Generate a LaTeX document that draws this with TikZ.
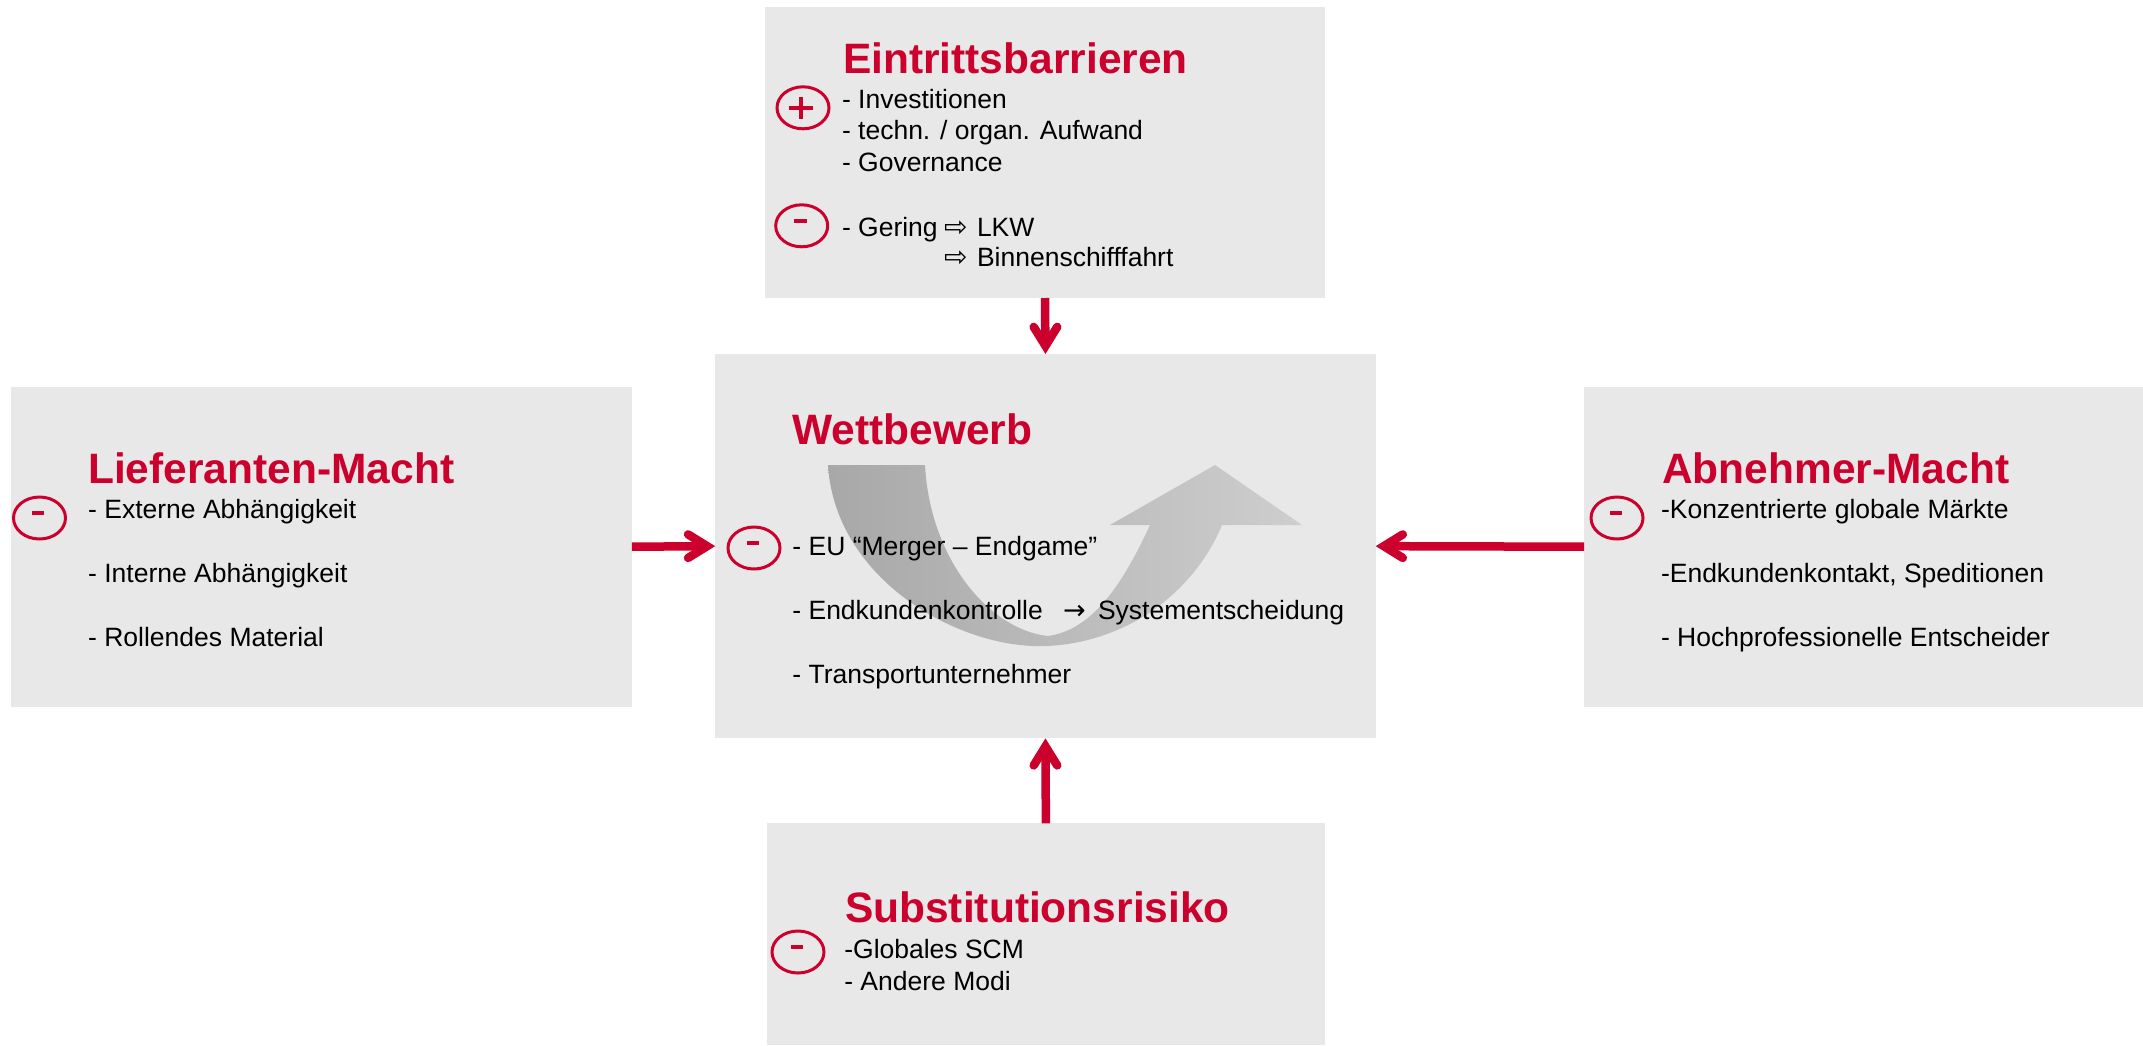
\documentclass[tikz,border=0pt]{standalone}
\usepackage{fontspec}
\setmainfont{Liberation Sans}
\newfontfamily\symfont{DejaVu Sans}
\usetikzlibrary{calc,shapes.geometric}
\definecolor{crim}{RGB}{204,0,44}
\definecolor{boxgray}{RGB}{232,232,232}
\definecolor{arrdark}{RGB}{168,168,168}
\definecolor{arrlight}{RGB}{206,206,206}
\newcommand\minusbar[1]{\fill[crim] ($(#1)+(-7.5,-7.15)$) rectangle ($(#1)+(4.9,-2.85)$);}
\begin{document}
\begin{tikzpicture}[x=1pt,y=-1pt,
  box/.style={fill=boxgray, draw=none, anchor=north west, inner sep=0pt, outer sep=0pt},
  ttl/.style={anchor=base west, inner sep=0pt, outer sep=0pt, text=crim, font=\fontsize{42.5}{50}\selectfont\bfseries},
  txt/.style={anchor=base west, inner sep=0pt, outer sep=0pt, font=\fontsize{26.5}{32}\selectfont},
  symb/.style={anchor=base west, inner sep=0pt, outer sep=0pt, font=\symfont\fontsize{28}{32}\selectfont},
  arrsym/.style={anchor=base west, inner sep=0pt, outer sep=0pt, font=\symfont\fontsize{27}{32}\selectfont},
  sign/.style={ellipse, draw=crim, line width=3pt, minimum width=52pt, minimum height=42pt, inner sep=0pt},
  plusbar/.style={draw=crim, line width=4.3pt},
  conn/.style={draw=crim, line width=8.5pt, shorten >=8pt},
  chev/.pic={\draw[crim, line width=8.5pt, line cap=round, line join=miter] (-27.1,-11.75) -- (-8.1,0) -- (-27.1,11.75);}
]
\fill[white] (0,0) rectangle (2143,1045);
\useasboundingbox (0,0) rectangle (2143,1045);

% boxes
\node[box, minimum width=560pt, minimum height=291.3pt] (T) at (765,6.7) {};
\node[box, minimum width=660.5pt, minimum height=384.3pt] (C) at (715.2,354) {};
\node[box, minimum width=620.8pt, minimum height=320pt] (L) at (11,386.7) {};
\node[box, minimum width=558.8pt, minimum height=320pt] (R) at (1584.2,386.7) {};
\node[box, minimum width=558.3pt, minimum height=221.7pt] (B) at (766.7,823.3) {};

% curved arrow graphic in the centre box
\shade[left color=arrdark, right color=arrlight]
  (828,465) .. controls (835,580) and (960,650) .. (1047,646)
  .. controls (1130,642) and (1195,590) .. (1222,525)
  -- (1302,525) -- (1215,465) -- (1110,525) -- (1150,525)
  .. controls (1120,590) and (1090,630) .. (1048,636)
  .. controls (990,630) and (930,560) .. (925,465) -- cycle;

% connectors
\draw[conn] (T.south) -- (C.north);
\pic[rotate=-90] at (C.north) {chev};
\draw[conn] (B.north) -- (C.south);
\pic[rotate=90] at (C.south) {chev};
\draw[conn] (L.east) -- (C.west);
\pic at (C.west) {chev};
\draw[conn] (R.west) -- (C.east);
\pic[rotate=180] at (C.east) {chev};

% signs
\node[sign] (sT1) at (803,107.8) {};
\draw[plusbar] ($(sT1)+(-14.2,0)$) -- ($(sT1)+(10.2,0)$);
\draw[plusbar] ($(sT1)+(-2,-11.3)$) -- ($(sT1)+(-2,11.3)$);
\node[sign] (sT2) at (801.7,225.8) {};
\minusbar{sT2}
\node[sign] (sC) at (754,548) {};
\minusbar{sC}
\node[sign] (sL) at (39.5,518) {};
\minusbar{sL}
\node[sign] (sR) at (1617,518) {};
\minusbar{sR}
\node[sign] (sB) at (798,952) {};
\minusbar{sB}

% top box texts
\node[ttl] (tT) at (843,73) {Eintrittsbarrieren};
\node[txt] (t1) at (842,108.3) {- Investitionen};
\node[txt] (t2) at (842,139.3) {- techn. / organ. Aufwand};
\node[txt] (t3) at (842,171.7) {- Governance};
\node[txt] (t4) at (842,236) {- Gering};
\node[symb] (a1) at (944,236) {⇨};
\node[txt] (t5) at (977,236) {LKW};
\node[symb] (a2) at (944,266.7) {⇨};
\node[txt] (t6) at (977,266.7) {Binnenschifffahrt};

% centre box texts
\node[ttl] (tC) at (792.4,444.5) {Wettbewerb};
\node[txt] (c1) at (792.4,555.7) {- EU “Merger – Endgame”};
\node[txt] (c2) at (792.4,619.3) {- Endkundenkontrolle};
\node[arrsym] (ca) at (1063,619.3) {→};
\node[txt] (c3) at (1098,619.3) {Systementscheidung};
\node[txt] (c4) at (792.4,683.3) {- Transportunternehmer};

% left box texts
\node[ttl] (tL) at (88.2,483.3) {Lieferanten-Macht};
\node[txt] (l1) at (88.2,518.3) {- Externe Abhängigkeit};
\node[txt] (l2) at (88.2,582.3) {- Interne Abhängigkeit};
\node[txt] (l3) at (88.2,646.7) {- Rollendes Material};

% right box texts
\node[ttl] (tR) at (1662.2,483.3) {Abnehmer-Macht};
\node[txt] (r1) at (1661,518.3) {-Konzentrierte globale Märkte};
\node[txt] (r2) at (1661,582.3) {-Endkundenkontakt, Speditionen};
\node[txt] (r3) at (1661,646.7) {- Hochprofessionelle Entscheider};

% bottom box texts
\node[ttl] (tB) at (845,922.7) {Substitutionsrisiko};
\node[txt] (b1) at (844.3,958.3) {-Globales SCM};
\node[txt] (b2) at (844.3,990) {- Andere Modi};
\end{tikzpicture}
\end{document}
